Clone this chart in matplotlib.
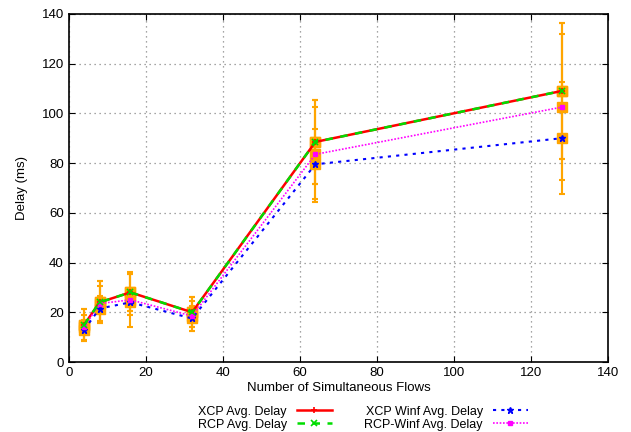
import numpy as np
import matplotlib.pyplot as plt

plt.rcParams['font.family'] = ['Liberation Sans', 'DejaVu Sans']

flows = [4, 8, 16, 32, 64, 128]

xcp_avg = [15, 24, 28, 20, 88.5, 109]
xcp_err = [6.5, 8.5, 7.5, 6, 17, 27.3]
rcp_avg = [15, 24, 28, 20, 88.5, 109]
rcp_err = [6.5, 8.5, 7.5, 6, 17, 27.3]
xcp_winf = [13, 21.5, 24, 17.5, 79.5, 90]
xcp_winf_err = [4, 5, 5, 5, 14, 22.4]
rcp_winf = [14, 23.5, 25, 18.5, 83.5, 102.5]
rcp_winf_err = [5, 7, 11, 6, 19, 29.3]

fig = plt.figure(figsize=(6.31, 4.32), dpi=100)
ax = fig.add_axes([0.109, 0.162, 0.855, 0.806])

orange = '#FFA500'
for y, e in [(xcp_avg, xcp_err), (rcp_avg, rcp_err), (xcp_winf, xcp_winf_err), (rcp_winf, rcp_winf_err)]:
    ax.errorbar(flows, y, yerr=e, fmt='s', color=orange, ms=6.5, capsize=2.5,
                elinewidth=1.5, capthick=1.5, zorder=2)

ax.plot(flows, xcp_avg, color='red', lw=1.8, marker='+', ms=5, mew=1.2,
        label='XCP Avg. Delay', zorder=3)
ax.plot(flows, rcp_avg, color='#00dd00', lw=1.8, ls=(0, (3, 3)), marker='x', ms=4,
        mew=1.2, label='RCP Avg. Delay', zorder=4)
ax.plot(flows, xcp_winf, color='blue', lw=1.5, ls=(0, (1.5, 2.5)), marker='*', ms=5,
        label='XCP Winf Avg. Delay', zorder=3)
ax.plot(flows, rcp_winf, color='magenta', lw=1.2, ls=(0, (1, 1)), marker='s', ms=3.5,
        label='RCP-Winf Avg. Delay', zorder=3)

ax.set_xlim(0, 140)
ax.set_ylim(0, 140)
ax.set_xticks(np.arange(0, 141, 20))
ax.set_yticks(np.arange(0, 141, 20))
ax.tick_params(direction='in', top=True, right=True, labelsize=9.5, length=4)
ax.grid(True, color='#888888', ls=(0, (1, 3)), lw=0.9)
for s in ax.spines.values():
    s.set_linewidth(1.2)

ax.set_xlabel('Number of Simultaneous Flows', fontsize=9.5, labelpad=2)
ax.set_ylabel('Delay (ms)', fontsize=9.5, labelpad=10)

ax.legend(loc='upper center', bbox_to_anchor=(0.545, -0.1), ncol=2, frameon=False,
          markerfirst=False, fontsize=9, handlelength=2.8, columnspacing=2.6,
          labelspacing=0.1, borderpad=0.2, handletextpad=0.8)

fig.savefig('out.png', dpi=100)
